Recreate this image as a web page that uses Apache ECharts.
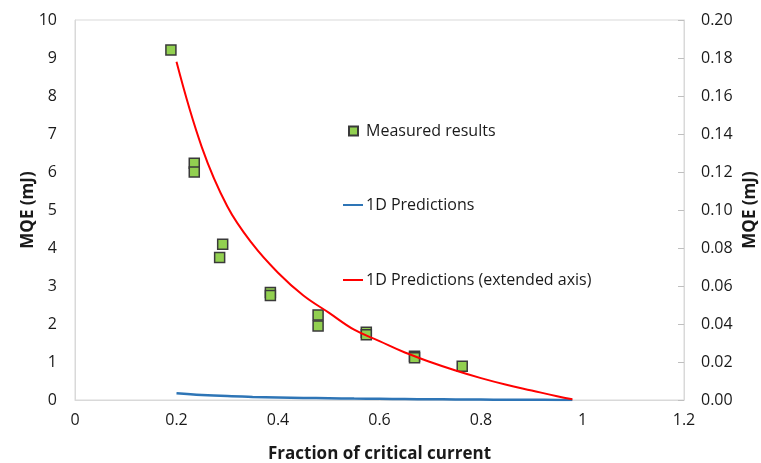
<!DOCTYPE html>
<html>
<head>
<meta charset="utf-8">
<script src="https://cdn.jsdelivr.net/npm/echarts@6/dist/echarts.min.js"></script>
<style>
  html, body { margin: 0; padding: 0; background: #fff; }
  #chart { width: 761px; height: 463px; }
</style>
</head>
<body>
<div id="chart"></div>
<script>
// measured MQE points [fraction of Ic, mJ]
var measuredX = [0.189, 0.235, 0.235, 0.291, 0.285, 0.385, 0.385, 0.479, 0.479, 0.574, 0.574, 0.669, 0.669, 0.763]
var measuredY = [9.21, 6.23, 6.0, 4.1, 3.75, 2.83, 2.75, 2.24, 1.95, 1.78, 1.72, 1.15, 1.11, 0.89]

// 1D prediction curve (mJ), same values on both axes
var predX = [0.2, 0.25, 0.3, 0.35, 0.4, 0.45, 0.5, 0.55, 0.6, 0.65, 0.7, 0.75, 0.8, 0.85, 0.9, 0.95, 0.98]
var predY = [0.178, 0.133, 0.102, 0.082, 0.067, 0.055, 0.046, 0.037, 0.031, 0.025, 0.020, 0.0155, 0.0115, 0.008, 0.005, 0.002, 0.0004]

var leftTicks = { min: 0, max: 10, interval: 1 }
var rightTicks = { min: 0, max: 0.2, interval: 0.02 }
var xTicks = { min: 0, max: 1.2, interval: 0.2 }

function pairs(xs, ys) {
  var out = []
  for (let i = 0; i < xs.length; i++) {
    out.push([xs[i], ys[i]])
  }
  return out
}

var myChart = echarts.init(document.getElementById('chart'), null, { renderer: 'canvas' })
var font = 'Open Sans'
var textColor = '#1a1a1a'
var axisGrey = '#d9d9d9'

function legendFor(name, top, left, w, h, textShift) {
  return {
    data: [{ name: name, icon: 'rect' }],
    left: left,
    top: top,
    itemWidth: w,
    itemHeight: h,
    textStyle: { fontFamily: font, fontSize: 16, color: textColor, padding: [0, 0, 0, textShift] }
  }
}

var option = {
  animation: false,
  textStyle: { fontFamily: font },
  grid: {
    left: 75,
    right: 77,
    top: 20,
    bottom: 63,
    outerBoundsMode: 'none',
    containLabel: false,
    show: true,
    borderColor: axisGrey,
    borderWidth: 1
  },
  legend: [
    legendFor('Measured results', 118, 343, 9, 9, 3),
    legendFor('1D Predictions', 192, 338, 20, 2, -2),
    legendFor('1D Predictions (extended axis)', 267, 338, 20, 2, -2)
  ],
  xAxis: {
    type: 'value',
    min: xTicks.min,
    max: xTicks.max,
    interval: xTicks.interval,
    name: 'Fraction of critical current',
    nameLocation: 'middle',
    nameGap: 46,
    nameMoveOverlap: false,
    nameTextStyle: { fontFamily: font, fontSize: 17, fontWeight: 'bold', color: textColor },
    axisLine: { show: true, lineStyle: { color: axisGrey } },
    axisTick: { show: false },
    splitLine: { show: false },
    axisLabel: { margin: 12, fontSize: 16, color: textColor, fontFamily: font }
  },
  yAxis: [
    {
      type: 'value',
      min: leftTicks.min,
      max: leftTicks.max,
      interval: leftTicks.interval,
      name: 'MQE (mJ)',
      nameLocation: 'middle',
      nameGap: 38,
      nameMoveOverlap: false,
      nameTextStyle: { fontFamily: font, fontSize: 17, fontWeight: 'bold', color: textColor },
      axisLine: { show: true, lineStyle: { color: axisGrey } },
      axisTick: { show: false },
      splitLine: { show: false },
      axisLabel: { margin: 18, fontSize: 16, color: textColor, fontFamily: font }
    },
    {
      type: 'value',
      position: 'right',
      min: rightTicks.min,
      max: rightTicks.max,
      interval: rightTicks.interval,
      name: 'MQE (mJ)',
      nameLocation: 'middle',
      nameGap: 58,
      nameRotate: 90,
      nameMoveOverlap: false,
      nameTextStyle: { fontFamily: font, fontSize: 17, fontWeight: 'bold', color: textColor },
      axisLine: { show: true, lineStyle: { color: axisGrey } },
      axisTick: { show: true, inside: true, length: 6, lineStyle: { color: '#bfbfbf' } },
      splitLine: { show: false },
      axisLabel: {
        margin: 17,
        fontSize: 16,
        color: textColor,
        fontFamily: font,
        formatter: function(v) { return v.toFixed(2) }
      }
    }
  ],
  series: [
    {
      name: '1D Predictions',
      type: 'line',
      yAxisIndex: 0,
      data: pairs(predX, predY),
      smooth: 0.4,
      symbol: 'none',
      lineStyle: { color: '#2E75B6', width: 2.5 },
      itemStyle: { color: '#2E75B6' }
    },
    {
      name: '1D Predictions (extended axis)',
      type: 'line',
      yAxisIndex: 1,
      data: pairs(predX, predY),
      smooth: 0.4,
      symbol: 'none',
      lineStyle: { color: '#FF0000', width: 2 },
      itemStyle: { color: '#FF0000' }
    },
    {
      name: 'Measured results',
      type: 'scatter',
      yAxisIndex: 0,
      data: pairs(measuredX, measuredY),
      symbol: 'rect',
      symbolSize: 10,
      itemStyle: { color: '#92D050', borderColor: '#3a3a3a', borderWidth: 1.5, opacity: 1 }
    }
  ]
}

option && myChart.setOption(option)
</script>
</body>
</html>
